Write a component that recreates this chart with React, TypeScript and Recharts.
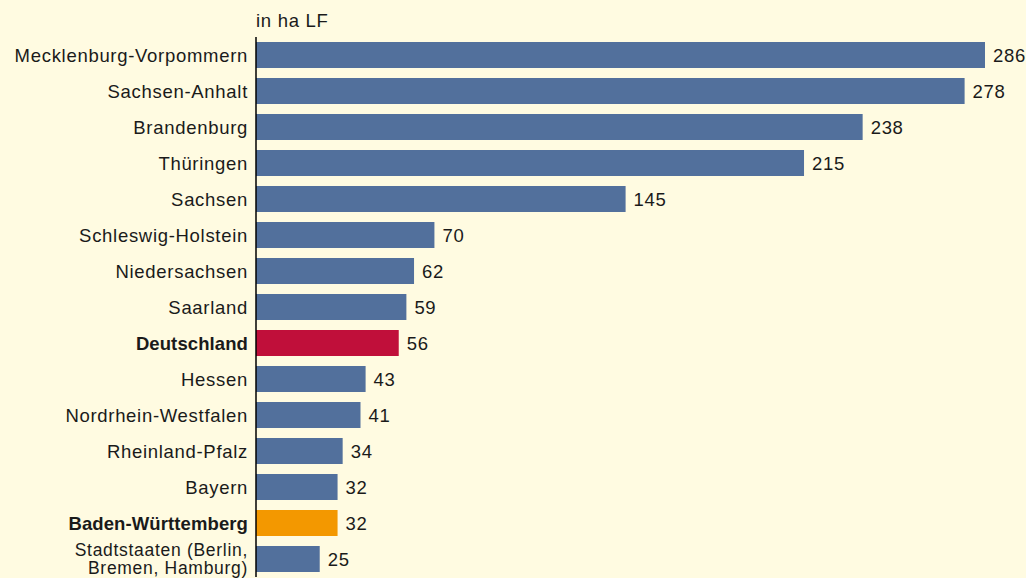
import React from 'react';
import { BarChart, Bar, XAxis, YAxis, Cell, LabelList } from 'recharts';

const regions = [
  'Mecklenburg-Vorpommern',
  'Sachsen-Anhalt',
  'Brandenburg',
  'Thüringen',
  'Sachsen',
  'Schleswig-Holstein',
  'Niedersachsen',
  'Saarland',
  'Deutschland',
  'Hessen',
  'Nordrhein-Westfalen',
  'Rheinland-Pfalz',
  'Bayern',
  'Baden-Württemberg',
  'Stadtstaaten (Berlin,\nBremen, Hamburg)',
];

const hectares = [286, 278, 238, 215, 145, 70, 62, 59, 56, 43, 41, 34, 32, 32, 25];

const boldRegions = ['Deutschland', 'Baden-Württemberg'];

const barColors: Record<string, string> = {
  Deutschland: '#c00f3a',
  'Baden-Württemberg': '#f39800',
};

const data = regions.map((name, i) => ({ name, value: hectares[i] }));

const FONT = '"Liberation Sans", Arial, Helvetica, sans-serif';
const SIZE = 18.5;
const SPACING = 0.7;

const RegionTick = (props: any) => {
  const { x, y, payload } = props;
  const lines: string[] = String(payload.value).split('\n');
  const bold = boldRegions.includes(payload.value);
  const multi = lines.length > 1;
  const lineHeight = 18;
  const startDy = -((lines.length - 1) * lineHeight) / 2;
  return (
    <text
      x={x}
      y={y}
      textAnchor="end"
      dominantBaseline="central"
      fontFamily={FONT}
      fontSize={multi ? 17.5 : SIZE}
      letterSpacing={bold ? 0.1 : SPACING}
      fontWeight={bold ? 700 : 400}
      fill="#1a1a1a"
    >
      {lines.map((line, i) => (
        <tspan key={i} x={x} dy={i === 0 ? startDy : lineHeight}>
          {line}
        </tspan>
      ))}
    </text>
  );
};

export default function App() {
  return (
    <div
      style={{
        position: 'fixed',
        left: 0,
        top: 0,
        width: 1026,
        height: 578,
        background: '#fffbe1',
        overflow: 'hidden',
      }}
    >
      <div
        style={{
          position: 'absolute',
          left: 256,
          top: 11,
          fontFamily: FONT,
          fontSize: SIZE,
          letterSpacing: SPACING,
          lineHeight: '20px',
          color: '#1a1a1a',
        }}
      >
        in ha LF
      </div>
      <BarChart
        width={1026}
        height={578}
        data={data}
        layout="vertical"
        margin={{ top: 37, right: 41, bottom: 1, left: 0 }}
        barCategoryGap={5}
      >
        <XAxis type="number" domain={[0, 286]} hide />
        <YAxis
          type="category"
          dataKey="name"
          width={256}
          tickSize={0}
          tickMargin={8}
          tickLine={false}
          axisLine={{ stroke: '#000', strokeWidth: 1.5 }}
          interval={0}
          tick={<RegionTick />}
        />
        <Bar dataKey="value" barSize={26} isAnimationActive={false}>
          {data.map((d) => (
            <Cell key={d.name} fill={barColors[d.name] ?? '#52709c'} />
          ))}
          <LabelList
            dataKey="value"
            position="right"
            offset={8}
            fill="#1a1a1a"
            fontSize={SIZE}
            letterSpacing={SPACING}
            fontFamily={FONT}
          />
        </Bar>
      </BarChart>
    </div>
  );
}
